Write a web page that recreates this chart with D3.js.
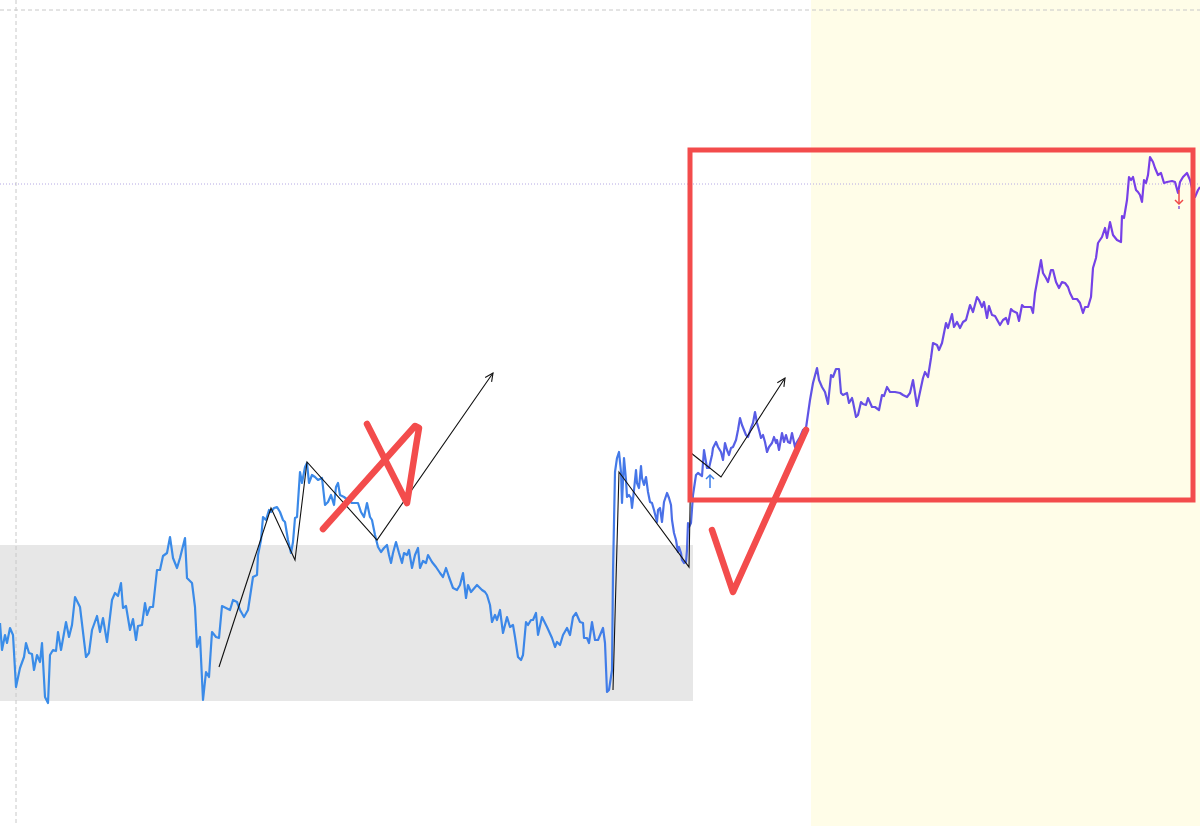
<!DOCTYPE html>
<html><head><meta charset="utf-8">
<script src="https://cdn.jsdelivr.net/npm/d3@7"></script>
<style>html,body{margin:0;padding:0;background:#fff;overflow:hidden}svg{display:block}</style>
</head><body><div id="chart"></div>
<script>
// ---- data (time index, price) ----
const tIdx = [0,2,5,7,10,13,16,20,24,26,29,32,34,37,40,42,45,48,50,53,56,58,61,66,69,72,75,80,86,89,92,97,100,103,107,112,115,118,121,123,126,130,133,136,138,142,145,147,150,153,157,160,163,167,170,173,177,180,185,187,192,195,197,200,203,206,209,212,216,219,222,226,230,233,237,240,244,248,250,
253,257,258,261,263,266,269,271,274,277,280,283,285,288,291,293,295,297,300,302,305,307,309,312,315,318,322,325,328,331,334,336,338,340,344,348,352,355,358,361,364,367,370,372,375,378,381,384,387,389,391,393,396,399,402,404,407,409,412,415,418,420,423,426,428,432,436,440,443,446,449,
453,457,460,463,466,468,471,477,482,485,487,490,492,495,497,500,503,507,510,513,515,518,521,523,526,528,531,533,536,538,542,547,552,555,557,560,563,567,570,573,576,580,583,584,587,589,592,595,598,603,605,607,609,612,613,615,617,619,621,622,624,626,627,629,631,632,634,636,637,639,641,642,644,646,648,650,652,654,657,658,660,662,664,667,669,671,672,674,676,678,679,681,682,684,686,687,688,689,691,693,696,698,702,704,707,709,712,713,716,718,721,723,725,727,729,731,733,736,738,740,742,744,746,748,751,753,755,757,759,761,763,765,767,769,772,774,776,777,779,782,784,786,788,790,792,795,797,800,803,806,
810,813,817,819,822,825,828,831,833,836,839,841,843,847,849,852,853,856,858,861,863,866,868,872,875,879,882,884,887,890,895,900,903,907,910,913,917,920,923,925,928,931,933,937,939,942,946,948,952,954,957,960,963,966,970,973,977,979,982,984,987,989,992,995,1000,1003,1006,1008,1011,1013,1017,1019,1022,1024,1028,1031,1033,1035,1037,1041,1043,1046,1048,1051,1053,1056,1059,1062,1065,1068,1070,1073,1077,1080,1083,1085,1088,1091,1093,1096,1098,1102,1105,1107,1110,1113,1117,1121,1122,1124,1127,1129,1131,1133,1136,1138,1140,1142,1144,1146,1148,1150,1153,1155,1158,1161,1164,1167,1172,1175,1178,1180,1183,1187,1190,1193,1195,1198,1200];
const price = [203,176,191,183,198,191,139,158,169,183,173,172,156,171,164,183,129,123,171,176,175,194,176,204,189,201,229,219,169,173,196,210,194,208,184,226,233,230,243,218,220,196,207,186,200,201,223,211,219,219,256,256,270,273,289,268,258,268,288,248,243,219,179,189,126,154,149,194,189,188,220,218,216,226,224,216,209,216,229,
249,251,271,286,309,306,316,314,318,319,314,306,304,286,273,284,308,309,354,343,359,363,343,351,349,346,348,321,324,331,321,339,343,331,329,326,323,323,323,314,309,323,309,306,291,279,274,278,281,271,263,273,284,273,263,273,271,276,258,271,278,258,265,263,271,264,259,253,249,258,249,
238,236,241,253,228,241,234,241,236,234,231,221,204,211,206,216,193,209,199,201,189,169,166,171,204,201,206,206,213,191,209,199,188,179,184,181,191,198,191,209,213,204,203,188,188,183,204,186,186,198,183,134,136,156,253,354,368,374,354,323,368,346,329,331,328,318,336,356,343,338,360,348,341,349,334,324,323,316,304,316,318,304,324,333,328,321,306,293,286,274,279,273,266,263,264,276,303,299,303,331,351,353,350,376,358,358,371,378,384,379,374,366,383,376,371,378,379,386,396,408,401,396,391,389,398,403,414,403,396,388,391,384,374,379,383,389,383,386,376,393,384,391,384,383,393,379,384,389,396,398,
426,443,458,446,439,434,422,451,449,457,457,433,431,433,423,428,424,409,411,424,422,421,428,419,419,416,431,430,439,434,434,433,431,429,433,446,420,434,448,454,449,468,483,481,476,483,503,498,512,499,504,498,504,506,521,514,529,526,519,524,508,520,511,510,501,506,508,502,517,515,513,505,521,519,519,519,513,533,544,566,553,548,544,556,556,544,538,544,543,539,533,527,527,523,513,519,519,529,558,568,583,589,598,588,604,591,586,584,610,608,626,649,646,649,636,634,631,624,646,643,651,669,664,658,651,653,643,644,645,644,633,644,649,653,646,634,629,636,639];

// annotation data
const wave1T = [219,271,295,307,377,493];
const wave1P = [159,318,266,364,286,453];
const wave2T = [613,619,689,691,721,785];
const wave2P = [136,354,259,373,349,448];
const crossT = [367,407,416,419,415,323];
const crossP = [402,323,380,398,400,297];
const checkT = [712,733,806];
const checkP = [296,234,396];
const boxT = [690,1193], boxP = [326,676];
const rangeT = [0,693], rangeP = [125,281];
const futureT = [811,1200];
const refPrice = 642;
const gridPrice = 816, gridT = 16;
const upArrow = {t:710, p0:338, p1:351};
const downArrow = {t:1179, p0:636, p1:622};

const W = 1200, H = 826;
const x = d3.scaleLinear().domain([0,1200]).range([0,W]);
const y = d3.scaleLinear().domain([0,826]).range([H,0]);

const svg = d3.select('#chart').append('svg').attr('width',W).attr('height',H);
const defs = svg.append('defs');
const grad = defs.append('linearGradient').attr('id','lg').attr('gradientUnits','userSpaceOnUse')
  .attr('x1',x(0)).attr('x2',x(1200)).attr('y1',0).attr('y2',0);
[[0,'#3a8de8'],[560,'#3c86e8'],[640,'#4676e8'],[720,'#5462e6'],[820,'#6152e4'],[1000,'#7045e6'],[1200,'#7b3de8']]
  .forEach(([t,c])=>grad.append('stop').attr('offset',t/1200).attr('stop-color',c));

// backgrounds
svg.append('rect').attr('x',x(futureT[0])).attr('y',0).attr('width',x(futureT[1])-x(futureT[0])).attr('height',H).attr('fill','#fffde8');
svg.append('rect').attr('x',x(rangeT[0])).attr('y',y(rangeP[1])).attr('width',x(rangeT[1])-x(rangeT[0])).attr('height',y(rangeP[0])-y(rangeP[1])).attr('fill','#e7e7e7');

// grid
svg.append('line').attr('x1',0).attr('x2',W).attr('y1',y(gridPrice)).attr('y2',y(gridPrice)).attr('stroke','#c8c8c8').attr('stroke-dasharray','4,3');
svg.append('line').attr('x1',x(gridT)).attr('x2',x(gridT)).attr('y1',0).attr('y2',H).attr('stroke','#c8c8c8').attr('stroke-dasharray','4,3');
svg.append('line').attr('x1',0).attr('x2',W).attr('y1',y(refPrice)).attr('y2',y(refPrice)).attr('stroke','#b4a8e4').attr('stroke-dasharray','1,2');

// price line
const data = tIdx.map((t,i)=>[t,price[i]]);
svg.append('path').datum(data).attr('fill','none').attr('stroke','url(#lg)').attr('stroke-width',2.2)
  .attr('stroke-linejoin','round').attr('d',d3.line().x(d=>x(d[0])).y(d=>y(d[1])));

// black wave annotations with open arrowheads
function wave(ts,ps){
  const pts = ts.map((t,i)=>[x(t),y(ps[i])]);
  svg.append('path').attr('d',d3.line()(pts)).attr('fill','none').attr('stroke','#111').attr('stroke-width',1.1);
  const a=pts[pts.length-2], b=pts[pts.length-1];
  const ang=Math.atan2(b[1]-a[1],b[0]-a[0]), L=9, s=0.45;
  const h1=[b[0]-L*Math.cos(ang-s), b[1]-L*Math.sin(ang-s)];
  const h2=[b[0]-L*Math.cos(ang+s), b[1]-L*Math.sin(ang+s)];
  svg.append('path').attr('d',d3.line()([h1,b,h2])).attr('fill','none').attr('stroke','#111').attr('stroke-width',1.1);
}
wave(wave1T,wave1P);
wave(wave2T,wave2P);

// red box
svg.append('rect').attr('x',x(boxT[0])).attr('y',y(boxP[1])).attr('width',x(boxT[1])-x(boxT[0])).attr('height',y(boxP[0])-y(boxP[1]))
  .attr('fill','none').attr('stroke','#f34c4c').attr('stroke-width',5);

// red hand strokes
function stroke(ts,ps,curve){
  svg.append('path').attr('d',d3.line().curve(curve)(ts.map((t,i)=>[x(t),y(ps[i])])))
    .attr('fill','none').attr('stroke','#f34c4c').attr('stroke-width',6.5).attr('stroke-linecap','round').attr('stroke-linejoin','round');
}
stroke(crossT,crossP,d3.curveLinear);
stroke(checkT,checkP,d3.curveLinear);

// small arrows
function smallArrow(a,color){
  const xx=x(a.t), y0=y(a.p0), y1=y(a.p1), dir = y1<y0?-1:1;
  svg.append('line').attr('x1',xx).attr('x2',xx).attr('y1',y0).attr('y2',y1).attr('stroke',color).attr('stroke-width',1.5);
  svg.append('path').attr('d',`M${xx-4},${y1-dir*4}L${xx},${y1}L${xx+4},${y1-dir*4}`).attr('fill','none').attr('stroke',color).attr('stroke-width',1.5);
}
smallArrow(upArrow,'#3a7de8');
smallArrow(downArrow,'#f04848');
svg.append('line').attr('x1',x(downArrow.t)).attr('x2',x(downArrow.t)).attr('y1',y(downArrow.p1)+2).attr('y2',y(downArrow.p1)+5).attr('stroke','#8a5ad8').attr('stroke-width',1.5);
</script>
</body></html>
